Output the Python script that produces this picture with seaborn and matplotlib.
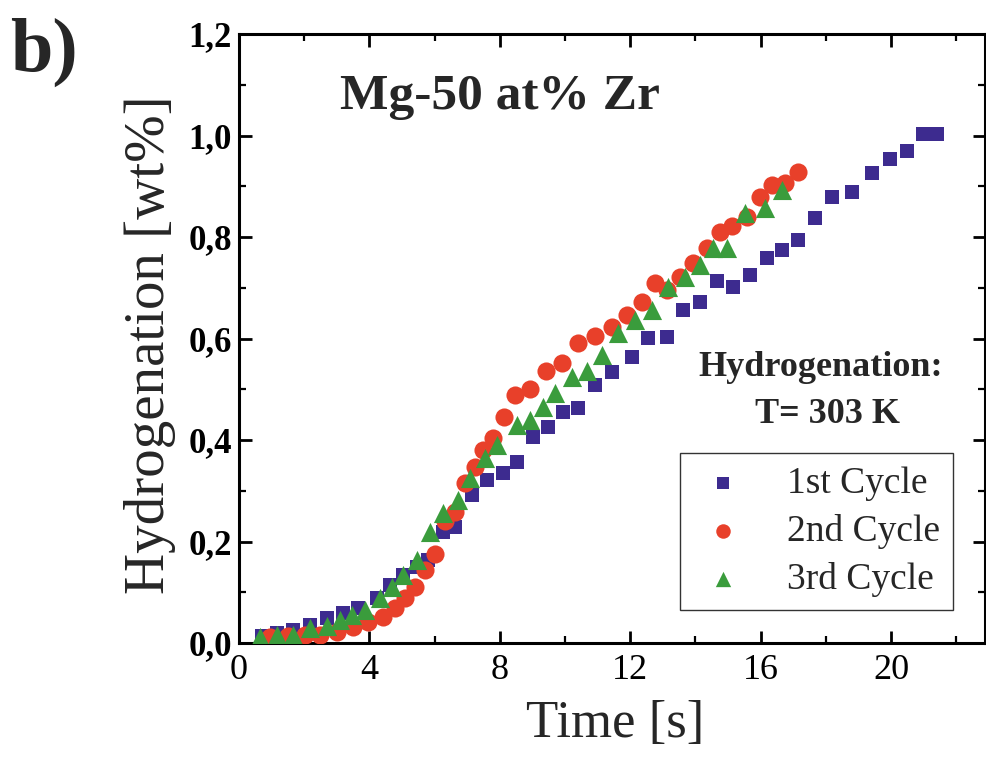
import matplotlib
matplotlib.use("Agg")
import matplotlib.pyplot as plt
import numpy as np
import pandas as pd
import seaborn as sns
from matplotlib.ticker import MultipleLocator, FuncFormatter

# Data (time in s, hydrogenation in wt%)
cycle_labels = ["1st Cycle", "2nd Cycle", "3rd Cycle"]

time_1st = [0.70, 1.16, 1.66, 2.18, 2.69, 3.19, 3.65, 4.22, 4.63, 5.03, 5.45, 5.80,
            6.26, 6.63, 7.14, 7.60, 8.10, 8.52, 9.02, 9.48, 9.94, 10.40, 10.92, 11.43,
            12.05, 12.55, 13.12, 13.62, 14.14, 14.65, 15.15, 15.67, 16.19, 16.65,
            17.15, 17.67, 18.18, 18.79, 19.41, 19.97, 20.48, 20.98, 21.40]
h_1st = [0.013, 0.020, 0.026, 0.036, 0.049, 0.059, 0.069, 0.089, 0.114, 0.134, 0.150, 0.164,
         0.219, 0.229, 0.292, 0.321, 0.335, 0.357, 0.406, 0.426, 0.456, 0.464, 0.509, 0.534,
         0.564, 0.601, 0.603, 0.657, 0.671, 0.714, 0.702, 0.726, 0.759, 0.775,
         0.795, 0.838, 0.878, 0.888, 0.927, 0.953, 0.969, 1.002, 1.002]

time_2nd = [0.95, 1.50, 2.02, 2.48, 3.00, 3.50, 3.96, 4.42, 4.79, 5.09, 5.40, 5.71,
            6.01, 6.32, 6.63, 6.93, 7.24, 7.48, 7.79, 8.13, 8.47, 8.93, 9.42, 9.91,
            10.40, 10.92, 11.44, 11.90, 12.36, 12.76, 13.13, 13.53, 13.93, 14.36,
            14.75, 15.12, 15.58, 15.98, 16.35, 16.75, 17.15]
h_2nd = [0.012, 0.014, 0.016, 0.016, 0.022, 0.032, 0.041, 0.051, 0.069, 0.089, 0.110, 0.144,
         0.176, 0.241, 0.258, 0.316, 0.347, 0.381, 0.404, 0.446, 0.489, 0.501, 0.536, 0.552,
         0.592, 0.604, 0.623, 0.647, 0.671, 0.710, 0.696, 0.722, 0.748, 0.779,
         0.809, 0.821, 0.840, 0.878, 0.903, 0.907, 0.929]

time_3rd = [0.64, 1.16, 1.66, 2.18, 2.69, 3.10, 3.46, 3.87, 4.33, 4.69, 5.03, 5.46,
            5.86, 6.26, 6.72, 7.09, 7.55, 7.91, 8.53, 8.93, 9.33, 9.69, 10.22, 10.68,
            11.13, 11.63, 12.15, 12.67, 13.16, 13.69, 14.14, 14.54, 14.97, 15.52,
            16.13, 16.66]
h_3rd = [0.012, 0.016, 0.016, 0.030, 0.034, 0.045, 0.055, 0.065, 0.089, 0.110, 0.134, 0.164,
         0.219, 0.256, 0.282, 0.325, 0.365, 0.391, 0.430, 0.440, 0.465, 0.493, 0.525, 0.535,
         0.568, 0.611, 0.637, 0.657, 0.702, 0.722, 0.744, 0.779, 0.779, 0.848,
         0.858, 0.893]

x_ticks = [0, 4, 8, 12, 16, 20]
y_ticks = [0.0, 0.2, 0.4, 0.6, 0.8, 1.0, 1.2]

frames = []
for label, t, h in zip(cycle_labels, [time_1st, time_2nd, time_3rd], [h_1st, h_2nd, h_3rd]):
    frames.append(pd.DataFrame({"time": t, "h": h, "cycle": label}))
df = pd.concat(frames, ignore_index=True)

colors = {"1st Cycle": "#3d2b8f", "2nd Cycle": "#e8402a", "3rd Cycle": "#3a9c3c"}
markers = {"1st Cycle": "s", "2nd Cycle": "o", "3rd Cycle": "^"}
sizes = {"1st Cycle": 115, "2nd Cycle": 170, "3rd Cycle": 190}

sns.set_style("ticks")
plt.rcParams["font.family"] = ["Liberation Serif", "DejaVu Serif"]

fig = plt.figure(figsize=(9.86, 7.69), dpi=100)
ax = fig.add_axes([239 / 986, (769 - 643) / 769, (985 - 239) / 986, (643 - 34) / 769])

for label in cycle_labels:
    sns.scatterplot(data=df[df["cycle"] == label], x="time", y="h",
                    color=colors[label], marker=markers[label], s=sizes[label],
                    linewidth=0, label=label, ax=ax, zorder=3)

ax.set_xlim(0, 22.88)
ax.set_ylim(0, 1.2)
ax.set_xticks(x_ticks)
ax.set_yticks(y_ticks)
ax.xaxis.set_minor_locator(MultipleLocator(2))
ax.yaxis.set_minor_locator(MultipleLocator(0.1))
ax.yaxis.set_major_formatter(FuncFormatter(lambda v, p: f"{v:.1f}".replace(".", ",")))

for side in ["left", "right", "top", "bottom"]:
    ax.spines[side].set_linewidth(2.2)
    ax.spines[side].set_color("black")
ax.tick_params(which="both", direction="in", top=True, right=True, colors="black")
ax.tick_params(which="major", length=9, width=2.0)
ax.tick_params(which="minor", length=5, width=1.6)
ax.tick_params(axis="x", labelsize=26, pad=8)
ax.tick_params(axis="y", labelsize=25, pad=5)
for lab in ax.get_yticklabels():
    lab.set_fontweight("bold")

ax.set_xlabel("Time [s]", fontsize=38)
ax.set_ylabel("Hydrogenation [wt%]", fontsize=41)
ax.xaxis.set_label_coords(0.504, -0.093)
ax.yaxis.set_label_coords(-0.084, 0.49)

ax.text(8.0, 1.075, "Mg-50 at% Zr", fontsize=37, fontweight="bold", ha="center", va="center")
ax.text(17.85, 0.542, "Hydrogenation:", fontsize=26, fontweight="bold", ha="center", va="center")
ax.text(18.05, 0.45, "T= 303 K", fontsize=26, fontweight="bold", ha="center", va="center")
fig.text(10 / 986, 1 - 52 / 769, "b)", fontsize=55, fontweight="bold", ha="left", va="center")

leg = ax.legend(loc="lower right", bbox_to_anchor=(0.957, 0.054), borderaxespad=0,
                fontsize=27, frameon=True, fancybox=False, handletextpad=0.9,
                labelspacing=0.35, borderpad=0.35, markerscale=0.8, handlelength=1.6)
leg.get_frame().set_edgecolor("black")
leg.get_frame().set_linewidth(1.0)

fig.savefig("out.png", dpi=100)
